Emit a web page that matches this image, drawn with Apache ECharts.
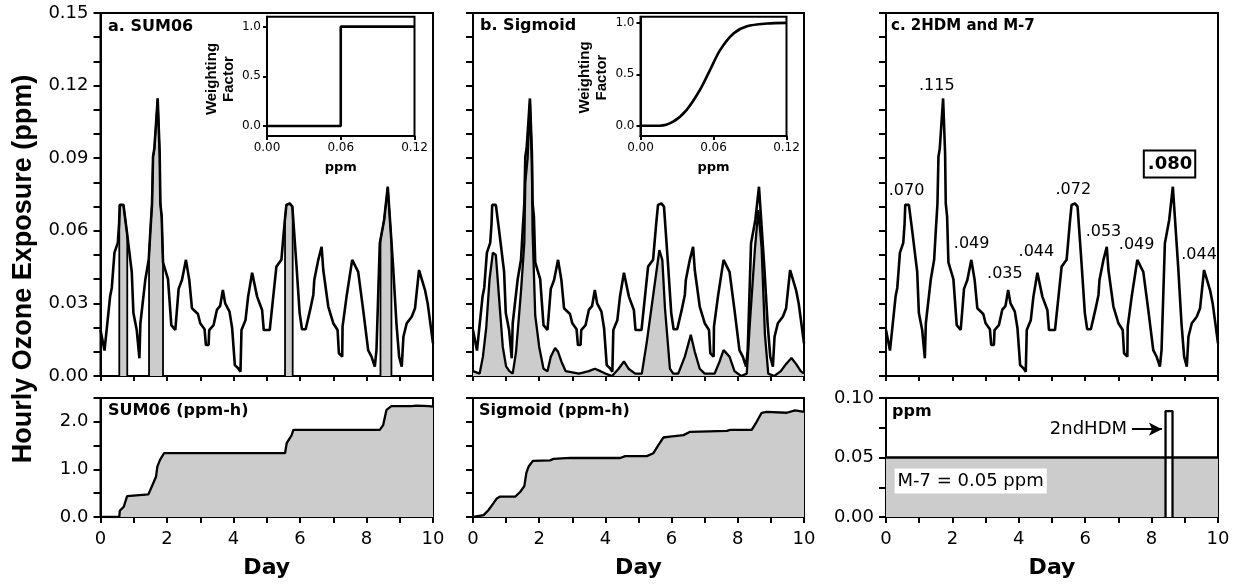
<!DOCTYPE html>
<html><head><meta charset="utf-8">
<script src="https://cdn.jsdelivr.net/npm/echarts@6/dist/echarts.min.js"></script>
<style>html,body{margin:0;padding:0;background:#fff}#c{width:1237px;height:586px}</style>
</head><body><div id="c"></div>
<script>
// ---------- data ----------
const ozoneDays = [0.00,0.04,0.12,0.29,0.34,0.42,0.52,0.56,0.58,0.69,0.79,0.94,0.99,1.09,1.17,1.20,1.35,1.45,1.50,1.55,1.58,1.62,1.72,1.78,1.80,1.84,1.88,2.03,2.13,2.25,2.35,2.45,2.57,2.67,2.75,2.93,3.00,3.13,3.17,3.25,3.27,3.40,3.50,3.60,3.68,3.75,3.88,3.96,4.00,4.04,4.14,4.21,4.24,4.36,4.44,4.56,4.71,4.86,4.91,5.09,5.29,5.44,5.54,5.59,5.69,5.77,5.89,5.99,6.06,6.17,6.30,6.40,6.43,6.55,6.65,6.70,6.85,7.00,7.13,7.17,7.27,7.28,7.40,7.57,7.75,7.90,8.05,8.15,8.25,8.30,8.40,8.53,8.64,8.70,8.80,8.90,8.98,9.06,9.11,9.21,9.36,9.46,9.58,9.76,9.84,10.00];
const ozonePpm = [0.019,0.019,0.0105,0.033,0.0365,0.051,0.055,0.063,0.0707,0.0707,0.060,0.043,0.026,0.019,0.0073,0.0218,0.040,0.048,0.060,0.0713,0.0906,0.094,0.1147,0.092,0.0713,0.066,0.047,0.040,0.021,0.019,0.036,0.0397,0.048,0.0397,0.028,0.0256,0.0218,0.0193,0.0128,0.0128,0.019,0.021,0.0273,0.029,0.0355,0.030,0.0266,0.0197,0.019,0.0045,0.0032,0.0018,0.019,0.023,0.0328,0.0427,0.0328,0.0273,0.019,0.019,0.0452,0.048,0.0638,0.0707,0.0713,0.070,0.0465,0.0259,0.0193,0.0193,0.027,0.0335,0.0397,0.048,0.0534,0.0438,0.0287,0.0218,0.019,0.0094,0.008,0.0204,0.0328,0.048,0.043,0.0273,0.0107,0.008,0.0039,0.0107,0.0548,0.0645,0.0782,0.0658,0.0452,0.0218,0.008,0.0039,0.0162,0.0218,0.0245,0.028,0.0438,0.0355,0.030,0.0135];

const sigDays = [0.00,0.20,0.30,0.40,0.50,0.60,0.69,0.80,0.90,1.00,1.10,1.20,1.30,1.45,1.55,1.58,1.65,1.72,1.78,1.80,1.88,2.00,2.13,2.25,2.35,2.48,2.57,2.67,2.80,3.20,3.50,3.68,3.85,4.00,4.20,4.40,4.56,4.70,4.90,5.10,5.25,5.45,5.63,5.72,5.80,5.95,6.05,6.20,6.40,6.58,6.70,6.85,7.00,7.30,7.45,7.57,7.75,7.90,8.10,8.27,8.37,8.52,8.62,8.72,8.82,8.92,9.10,9.30,9.46,9.62,9.76,9.90,10.00];
const sigWeighted = [0.002,0.001,0.008,0.020,0.040,0.051,0.050,0.030,0.012,0.004,0.002,0.001,0.010,0.035,0.055,0.080,0.090,0.113,0.088,0.060,0.025,0.012,0.003,0.002,0.008,0.0116,0.010,0.006,0.002,0.001,0.002,0.003,0.002,0.001,0.000,0.003,0.006,0.003,0.001,0.001,0.014,0.034,0.052,0.048,0.028,0.003,0.001,0.001,0.008,0.017,0.010,0.003,0.001,0.001,0.006,0.0107,0.008,0.002,0.000,0.001,0.023,0.053,0.0686,0.053,0.017,0.001,0.000,0.002,0.005,0.0074,0.005,0.002,0.001];

const sum06Bands = [[0.565,0.805],[1.46,1.88],[5.55,5.78],[8.42,8.75]];

const sum06Days = [0,0.565,0.58,0.70,0.80,0.85,1.44,1.54,1.67,1.71,1.79,1.91,5.55,5.60,5.75,5.80,8.40,8.50,8.60,8.75,9.35,9.50,9.88,10.0];
const sum06Cum  = [0,0,0.13,0.216,0.44,0.476,0.476,0.637,0.847,1.057,1.20,1.34,1.34,1.55,1.72,1.83,1.83,1.93,2.25,2.33,2.33,2.34,2.33,2.32];

const sigCumDays = [0,0.04,0.32,0.47,0.62,0.72,0.82,1.28,1.43,1.55,1.61,1.68,1.81,2.33,2.43,2.94,4.45,4.60,5.25,5.45,5.60,5.75,5.95,6.36,6.56,7.67,7.77,8.42,8.57,8.72,8.87,9.48,9.73,10.0];
const sigCumVals = [0,0.01,0.04,0.147,0.29,0.39,0.43,0.43,0.53,0.65,0.92,1.06,1.18,1.19,1.22,1.24,1.24,1.28,1.28,1.34,1.51,1.67,1.69,1.72,1.79,1.81,1.83,1.83,2.00,2.19,2.21,2.19,2.24,2.21];

const peakText = ['.070','.115','.049','.035','.044','.072','.053','.049','.044'];
const peakLabelDay = [0.62,1.53,2.58,3.58,4.53,5.64,6.55,7.55,9.43];
const peakLabelPpm = [0.0734,0.1168,0.0514,0.039,0.048,0.0738,0.0562,0.051,0.0466];
const hdmText = '.080';
const hdmLabelDay = 8.54, hdmLabelPpm = 0.0876;

const m7Value = 0.05;
const m7LabelPos = [2.55, 0.0302];
const hdmBar = {start: 8.42, end: 8.63, top: 0.089};
const hdmArrowLabelPos = [7.26, 0.0735];
const arrowFrom = [7.41, 0.0738], arrowTo = [8.31, 0.0738];

const stepPpm = [0, 0.06, 0.06, 0.12];
const stepWeight = [0, 0, 1, 1];
const sigmoidPpm = [0,0.0157,0.0268,0.0378,0.0488,0.0571,0.0654,0.0764,0.0875,0.104,0.12];
const sigmoidW   = [0,0,0.039,0.152,0.347,0.54,0.735,0.897,0.968,0.994,1.0];

// ---------- helpers ----------
const zip = (a, b) => a.map((v, i) => [v, b[i]]);
function interp(d) {
  for (let i = 1; i < ozoneDays.length; i++) {
    if (d <= ozoneDays[i]) {
      const t = (d - ozoneDays[i-1]) / (ozoneDays[i] - ozoneDays[i-1]);
      return ozonePpm[i-1] + t * (ozonePpm[i] - ozonePpm[i-1]);
    }
  }
  return ozonePpm[ozonePpm.length-1];
}
function bandData(b) {
  const [d0, d1] = b;
  const pts = [[d0, 0], [d0, interp(d0)]];
  ozoneDays.forEach((d, i) => { if (d > d0 && d < d1) pts.push([d, ozonePpm[i]]); });
  pts.push([d1, interp(d1)], [d1, 0]);
  return pts;
}

const FONT = 'DejaVu Sans';
const BLACK = '#000';
const GRAY = '#cccccc';
const LW = 2.6;
const ozone = zip(ozoneDays, ozonePpm);

const grids = [
  {left:100.5, top:13, width:332.5, height:363},
  {left:473, top:13, width:331, height:363},
  {left:886, top:13, width:332, height:363},
  {left:100.5, top:398, width:332.5, height:119},
  {left:473, top:398, width:331, height:119},
  {left:886, top:398, width:332, height:119},
  {left:267, top:16.7, width:147.5, height:119.3, backgroundColor:'#fff'},
  {left:640.5, top:16.7, width:146, height:119.3, backgroundColor:'#fff'}
].map(g => Object.assign({show:true, borderColor:BLACK, borderWidth:2, containLabel:false}, g));

const axLine = {onZero:false, lineStyle:{color:BLACK, width:2}};
const tick = (len) => ({show:true, inside:false, length:len, lineStyle:{color:BLACK, width:2}});
const labStyle = {color:BLACK, fontFamily:FONT, fontSize:18};

const xAxis = [];
for (let i = 0; i < 3; i++) xAxis.push({type:'value', gridIndex:i, min:0, max:10, interval:1, axisLine:axLine, axisTick:tick(5), axisLabel:{show:false}, splitLine:{show:false}});
for (let i = 3; i < 6; i++) xAxis.push({type:'value', gridIndex:i, min:0, max:10, interval:1, axisLine:axLine, axisTick:tick(6),
  axisLabel:Object.assign({margin:13, formatter: v => (Math.round(v) % 2 === 0 ? String(Math.round(v)) : '')}, labStyle),
  splitLine:{show:false}, name:'Day', nameLocation:'middle', nameGap:40,
  nameTextStyle:{color:BLACK, fontFamily:FONT, fontWeight:'bold', fontSize:22}});
for (let i = 6; i < 8; i++) xAxis.push({type:'value', gridIndex:i, min:0, max:0.12, interval:0.06, axisLine:axLine, axisTick:tick(4),
  axisLabel:{margin:6, color:BLACK, fontFamily:FONT, fontSize:12, formatter: v => v.toFixed(2)},
  splitLine:{show:false}, name:'ppm', nameLocation:'middle', nameGap:25,
  nameTextStyle:{color:BLACK, fontFamily:FONT, fontWeight:'bold', fontSize:13}});

const yAxis = [];
for (let i = 0; i < 3; i++) yAxis.push({type:'value', gridIndex:i, min:0, max:0.15, interval:0.01, axisLine:axLine, axisTick:tick(7),
  axisLabel:Object.assign({show:i===0, margin:12, formatter: v => (Math.round(v*1000) % 30 === 0 ? v.toFixed(2) : '')}, labStyle), splitLine:{show:false}});
for (let i = 3; i < 5; i++) yAxis.push({type:'value', gridIndex:i, min:0, max:2.5, interval:0.5, axisLine:axLine, axisTick:tick(7),
  axisLabel:Object.assign({show:i===3, margin:12, formatter: v => (Math.round(v*10) % 10 === 0 ? v.toFixed(1) : '')}, labStyle), splitLine:{show:false}});
yAxis.push({type:'value', gridIndex:5, min:0, max:0.1, interval:0.025, axisLine:axLine, axisTick:tick(7),
  axisLabel:Object.assign({margin:12, formatter: v => (Math.round(v*1000) % 50 === 0 ? v.toFixed(2) : '')}, labStyle), splitLine:{show:false}});
[1.1, 1.06].forEach((mx, k) => yAxis.push({type:'value', gridIndex:6+k, min:-0.1, max:mx, axisLine:axLine,
  axisTick:Object.assign(tick(4), {customValues:[0,0.5,1]}),
  axisLabel:{margin:6, color:BLACK, fontFamily:FONT, fontSize:12, customValues:[0,0.5,1], formatter: v => v.toFixed(1)},
  splitLine:{show:false}}));

const lineBase = {type:'line', symbol:'none', smooth:false, silent:true, animation:false};
const textScatter = (xi, data, label) => ({type:'scatter', xAxisIndex:xi, yAxisIndex:xi, symbolSize:0, silent:true, animation:false, z:10,
  itemStyle:{opacity:1}, data, label:Object.assign({show:true, opacity:1, formatter: p => p.name, color:BLACK, fontFamily:FONT}, label)});
const series = [];
// panel a: SUM06 bands + ozone
sum06Bands.forEach(b => series.push(Object.assign({}, lineBase, {xAxisIndex:0, yAxisIndex:0, data:bandData(b),
  lineStyle:{color:BLACK, width:1.8}, areaStyle:{color:GRAY, opacity:1}})));
series.push(Object.assign({}, lineBase, {xAxisIndex:0, yAxisIndex:0, data:ozone, lineStyle:{color:BLACK, width:LW}}));
// panel b: sigmoid-weighted + ozone
series.push(Object.assign({}, lineBase, {xAxisIndex:1, yAxisIndex:1, data:zip(sigDays, sigWeighted),
  lineStyle:{color:BLACK, width:2.3}, areaStyle:{color:GRAY, opacity:1}}));
series.push(Object.assign({}, lineBase, {xAxisIndex:1, yAxisIndex:1, data:ozone, lineStyle:{color:BLACK, width:LW}}));
// panel c: ozone + daily max labels
series.push(Object.assign({}, lineBase, {xAxisIndex:2, yAxisIndex:2, data:ozone, lineStyle:{color:BLACK, width:LW}}));
series.push(textScatter(2, peakText.map((t, i) => ({value:[peakLabelDay[i], peakLabelPpm[i]], name:t})),
  {position:'top', distance:0, fontSize:16}));
series.push(textScatter(2, [{value:[hdmLabelDay, hdmLabelPpm], name:hdmText}],
  {position:'inside', fontSize:18, fontWeight:'bold', borderColor:BLACK, borderWidth:2, padding:[4,2,3,3], backgroundColor:'#fff'}));
// bottom a, b cumulative
series.push(Object.assign({}, lineBase, {xAxisIndex:3, yAxisIndex:3, data:zip(sum06Days, sum06Cum),
  lineStyle:{color:BLACK, width:2.3}, areaStyle:{color:GRAY, opacity:1}}));
series.push(Object.assign({}, lineBase, {xAxisIndex:4, yAxisIndex:4, data:zip(sigCumDays, sigCumVals),
  lineStyle:{color:BLACK, width:2.3}, areaStyle:{color:GRAY, opacity:1}}));
// bottom c: M-7 and 2nd HDM
series.push(Object.assign({}, lineBase, {xAxisIndex:5, yAxisIndex:5, data:[[0, m7Value],[10, m7Value]],
  lineStyle:{color:BLACK, width:2.3}, areaStyle:{color:GRAY, opacity:1},
  markLine:{silent:true, symbol:['none','arrow'], symbolSize:[10,13], label:{show:false},
    lineStyle:{color:BLACK, width:2, type:'solid'}, data:[[{coord:arrowFrom},{coord:arrowTo}]]}}));
series.push(Object.assign({}, lineBase, {xAxisIndex:5, yAxisIndex:5,
  data:[[hdmBar.start,0],[hdmBar.start,hdmBar.top],[hdmBar.end,hdmBar.top],[hdmBar.end,0]],
  lineStyle:{color:BLACK, width:2.3}, areaStyle:{color:'#fff', opacity:1}}));
series.push(textScatter(5, [{value:hdmArrowLabelPos, name:'2ndHDM'}], {position:'left', distance:0, fontSize:18}));
series.push(textScatter(5, [{value:m7LabelPos, name:'M-7 = ' + m7Value.toFixed(2) + ' ppm'}],
  {position:'inside', fontSize:18, backgroundColor:'#fff', padding:[4,3,3,3]}));
// insets
series.push(Object.assign({}, lineBase, {xAxisIndex:6, yAxisIndex:6, data:zip(stepPpm, stepWeight), lineStyle:{color:BLACK, width:2.6}}));
series.push(Object.assign({}, lineBase, {xAxisIndex:7, yAxisIndex:7, data:zip(sigmoidPpm, sigmoidW), smooth:0.3, lineStyle:{color:BLACK, width:2.6}}));

const tStyle = {color:BLACK, fontFamily:FONT, fontWeight:'bold', fontSize:16};
const title = [
  {text:'a. SUM06', left:108, top:19},
  {text:'b. Sigmoid', left:480, top:18},
  {text:'c. 2HDM and M-7', left:891, top:19, fs:15},
  {text:'SUM06 (ppm-h)', left:108, top:403},
  {text:'Sigmoid (ppm-h)', left:479, top:403},
  {text:'ppm', left:892, top:404}
].map(t => ({text:t.text, left:t.left, top:t.top, padding:0, textStyle:Object.assign({}, tStyle, t.fs ? {fontSize:t.fs} : {})}));

const graphic = [
  {type:'text', x:24, y:269, rotation:Math.PI/2, silent:true,
   style:{text:'Hourly Ozone Exposure (ppm)', fill:BLACK, font:'bold 27px "Liberation Sans", Arial, sans-serif', align:'center', verticalAlign:'middle'}},
  {type:'text', x:220, y:79, rotation:Math.PI/2, silent:true,
   style:{text:'Weighting\nFactor', fill:BLACK, font:'bold 15px "Liberation Sans", Arial, sans-serif', align:'center', verticalAlign:'middle', lineHeight:17}},
  {type:'text', x:593.5, y:77.5, rotation:Math.PI/2, silent:true,
   style:{text:'Weighting\nFactor', fill:BLACK, font:'bold 15px "Liberation Sans", Arial, sans-serif', align:'center', verticalAlign:'middle', lineHeight:17}}
];

const chart = echarts.init(document.getElementById('c'), null, {renderer:'canvas'});
chart.setOption({backgroundColor:'#fff', animation:false, title, grid:grids, xAxis, yAxis, series, graphic});
</script></body></html>
